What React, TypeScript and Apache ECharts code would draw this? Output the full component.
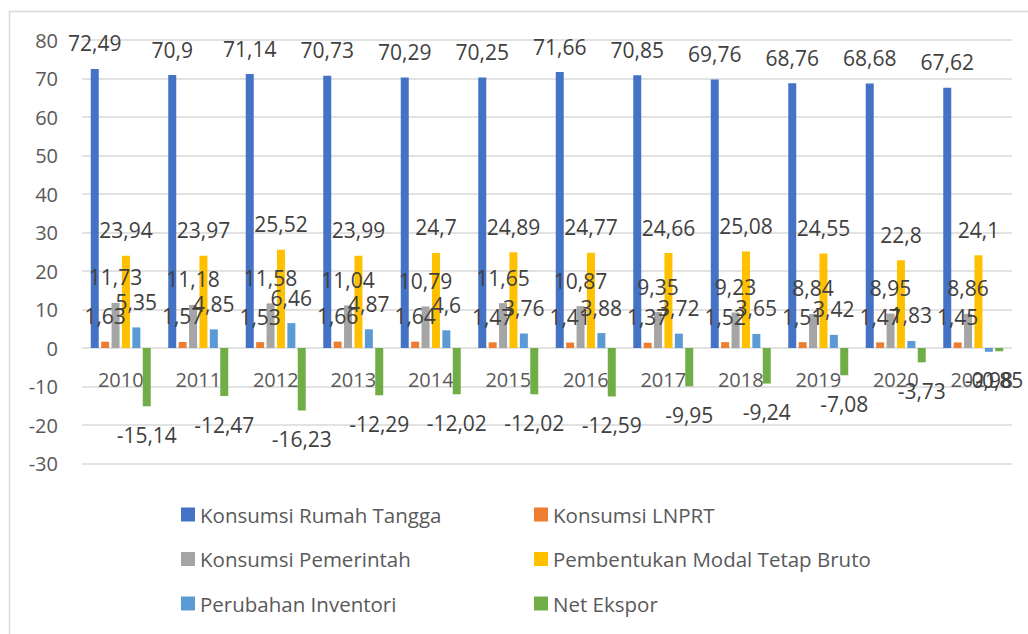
import React, { useEffect, useRef } from "react";
import * as echarts from "echarts";

const years = ["2010", "2011", "2012", "2013", "2014", "2015", "2016", "2017", "2018", "2019", "2020", "2021"];
const rumahTangga = [72.49, 70.9, 71.14, 70.73, 70.29, 70.25, 71.66, 70.85, 69.76, 68.76, 68.68, 67.62];
const lnprt = [1.63, 1.57, 1.53, 1.66, 1.64, 1.47, 1.41, 1.37, 1.52, 1.51, 1.47, 1.45];
const pemerintah = [11.73, 11.18, 11.58, 11.04, 10.79, 11.65, 10.87, 9.35, 9.23, 8.84, 8.95, 8.86];
const pmtb = [23.94, 23.97, 25.52, 23.99, 24.7, 24.89, 24.77, 24.66, 25.08, 24.55, 22.8, 24.1];
const inventori = [5.35, 4.85, 6.46, 4.87, 4.6, 3.76, 3.88, 3.72, 3.65, 3.42, 1.83, -0.98];
const netEkspor = [-15.14, -12.47, -16.23, -12.29, -12.02, -12.02, -12.59, -9.95, -9.24, -7.08, -3.73, -0.85];

const seriesNames = [
  "Konsumsi Rumah Tangga",
  "Konsumsi LNPRT",
  "Konsumsi Pemerintah",
  "Pembentukan Modal Tetap Bruto",
  "Perubahan Inventori",
  "Net Ekspor",
];
const seriesValues = [rumahTangga, lnprt, pemerintah, pmtb, inventori, netEkspor];
const colors = ["#4472C4", "#ED7D31", "#A5A5A5", "#FFC000", "#5B9BD5", "#70AD47"];

const FONT = "'Open Sans', 'Noto Sans', sans-serif";

export default function App() {
  const ref = useRef<HTMLDivElement>(null);
  useEffect(() => {
    if (!ref.current) return;
    const chart = echarts.init(ref.current, null, { renderer: "svg" });
    const series = seriesNames.map((name, i) => ({
      name,
      type: "bar",
      barWidth: 8,
      barGap: "30%",
      itemStyle: { color: colors[i] },
      label: {
        show: true,
        fontSize: 21,
        fontFamily: FONT,
        color: "#404040",
        formatter: (p: any) => String(p.value).replace(".", ","),
      },
      data: seriesValues[i].map((v) => ({
        value: v,
        label: { position: v < 0 ? "bottom" : "top", distance: v < 0 ? 18 : 15 },
      })),
    }));
    const legendBase = {
      orient: "vertical",
      top: 504,
      padding: 0,
      itemWidth: 14,
      itemHeight: 14,
      itemGap: 23.5,
      icon: "rect",
      textStyle: { fontSize: 20.5, color: "#595959", fontFamily: FONT },
    };
    chart.setOption({
      animation: false,
      color: colors,
      textStyle: { fontFamily: FONT },
      graphic: [
        {
          type: "rect",
          shape: { x: 9.5, y: 11.5, width: 1040, height: 660 },
          style: { fill: "none", stroke: "#D9D9D9", lineWidth: 1.5 },
          silent: true,
        },
      ],
      grid: { left: 82, right: 16, top: 40, bottom: 170.5, containLabel: false },
      xAxis: {
        type: "category",
        data: years,
        axisLine: { show: false },
        axisTick: { show: false },
        axisLabel: { fontSize: 20, color: "#595959", margin: -94, fontFamily: FONT },
      },
      yAxis: {
        type: "value",
        min: -30,
        max: 80,
        interval: 10,
        axisLine: { show: false },
        axisTick: { show: false },
        axisLabel: { fontSize: 20, color: "#595959", margin: 24, fontFamily: FONT },
        splitLine: { lineStyle: { color: "#D9D9D9", width: 1.5 } },
      },
      legend: [
        { ...legendBase, left: 181, data: [seriesNames[0], seriesNames[2], seriesNames[4]] },
        { ...legendBase, left: 534, data: [seriesNames[1], seriesNames[3], seriesNames[5]] },
      ],
      series,
    });
    return () => chart.dispose();
  }, []);
  return (
    <div
      ref={ref}
      style={{ position: "fixed", left: 0, top: 0, width: 1028, height: 634, background: "#fff" }}
    />
  );
}
